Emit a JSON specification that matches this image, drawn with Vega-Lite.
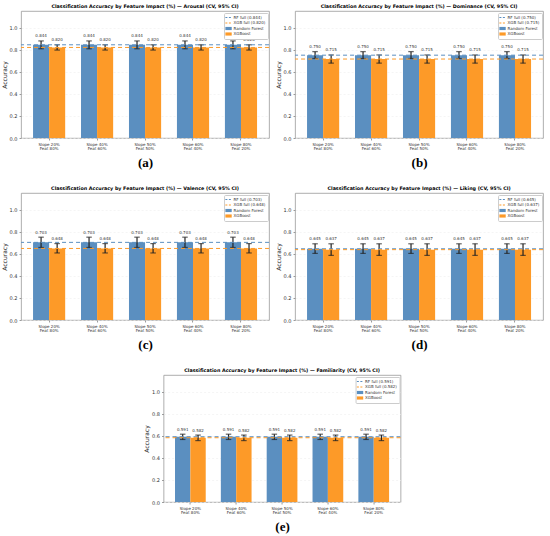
{
  "$schema": "https://vega.github.io/schema/vega-lite/v6.json",
  "background": "white",
  "padding": {"left": 0, "top": 3, "right": 0, "bottom": 0},
  "datasets": {
    "arousal": [
      {"cat": "Slope 20%|Feat 80%", "model": "Random Forest", "acc": 0.844, "lo": 0.808, "hi": 0.879},
      {"cat": "Slope 20%|Feat 80%", "model": "XGBoost", "acc": 0.820, "lo": 0.796, "hi": 0.844},
      {"cat": "Slope 40%|Feat 60%", "model": "Random Forest", "acc": 0.844, "lo": 0.808, "hi": 0.879},
      {"cat": "Slope 40%|Feat 60%", "model": "XGBoost", "acc": 0.820, "lo": 0.796, "hi": 0.844},
      {"cat": "Slope 50%|Feat 50%", "model": "Random Forest", "acc": 0.844, "lo": 0.808, "hi": 0.879},
      {"cat": "Slope 50%|Feat 50%", "model": "XGBoost", "acc": 0.820, "lo": 0.796, "hi": 0.844},
      {"cat": "Slope 60%|Feat 40%", "model": "Random Forest", "acc": 0.844, "lo": 0.808, "hi": 0.879},
      {"cat": "Slope 60%|Feat 40%", "model": "XGBoost", "acc": 0.820, "lo": 0.796, "hi": 0.844},
      {"cat": "Slope 80%|Feat 20%", "model": "Random Forest", "acc": 0.844, "lo": 0.808, "hi": 0.879},
      {"cat": "Slope 80%|Feat 20%", "model": "XGBoost", "acc": 0.820, "lo": 0.796, "hi": 0.844}
    ],
    "arousal_ref": [
      {"model": "RF full (0.844)", "v": 0.844},
      {"model": "XGB full (0.820)", "v": 0.820}
    ],
    "dominance": [
      {"cat": "Slope 20%|Feat 80%", "model": "Random Forest", "acc": 0.750, "lo": 0.720, "hi": 0.782},
      {"cat": "Slope 20%|Feat 80%", "model": "XGBoost", "acc": 0.715, "lo": 0.678, "hi": 0.752},
      {"cat": "Slope 40%|Feat 60%", "model": "Random Forest", "acc": 0.750, "lo": 0.720, "hi": 0.782},
      {"cat": "Slope 40%|Feat 60%", "model": "XGBoost", "acc": 0.715, "lo": 0.678, "hi": 0.752},
      {"cat": "Slope 50%|Feat 50%", "model": "Random Forest", "acc": 0.750, "lo": 0.720, "hi": 0.782},
      {"cat": "Slope 50%|Feat 50%", "model": "XGBoost", "acc": 0.715, "lo": 0.678, "hi": 0.752},
      {"cat": "Slope 60%|Feat 40%", "model": "Random Forest", "acc": 0.750, "lo": 0.720, "hi": 0.782},
      {"cat": "Slope 60%|Feat 40%", "model": "XGBoost", "acc": 0.715, "lo": 0.678, "hi": 0.752},
      {"cat": "Slope 80%|Feat 20%", "model": "Random Forest", "acc": 0.750, "lo": 0.720, "hi": 0.782},
      {"cat": "Slope 80%|Feat 20%", "model": "XGBoost", "acc": 0.715, "lo": 0.678, "hi": 0.752}
    ],
    "dominance_ref": [
      {"model": "RF full (0.750)", "v": 0.750},
      {"model": "XGB full (0.715)", "v": 0.715}
    ],
    "valence": [
      {"cat": "Slope 20%|Feat 80%", "model": "Random Forest", "acc": 0.703, "lo": 0.657, "hi": 0.750},
      {"cat": "Slope 20%|Feat 80%", "model": "XGBoost", "acc": 0.648, "lo": 0.607, "hi": 0.692},
      {"cat": "Slope 40%|Feat 60%", "model": "Random Forest", "acc": 0.703, "lo": 0.657, "hi": 0.750},
      {"cat": "Slope 40%|Feat 60%", "model": "XGBoost", "acc": 0.648, "lo": 0.607, "hi": 0.692},
      {"cat": "Slope 50%|Feat 50%", "model": "Random Forest", "acc": 0.703, "lo": 0.657, "hi": 0.750},
      {"cat": "Slope 50%|Feat 50%", "model": "XGBoost", "acc": 0.648, "lo": 0.607, "hi": 0.692},
      {"cat": "Slope 60%|Feat 40%", "model": "Random Forest", "acc": 0.703, "lo": 0.657, "hi": 0.750},
      {"cat": "Slope 60%|Feat 40%", "model": "XGBoost", "acc": 0.648, "lo": 0.607, "hi": 0.692},
      {"cat": "Slope 80%|Feat 20%", "model": "Random Forest", "acc": 0.703, "lo": 0.657, "hi": 0.750},
      {"cat": "Slope 80%|Feat 20%", "model": "XGBoost", "acc": 0.648, "lo": 0.607, "hi": 0.692}
    ],
    "valence_ref": [
      {"model": "RF full (0.703)", "v": 0.703},
      {"model": "XGB full (0.648)", "v": 0.648}
    ],
    "liking": [
      {"cat": "Slope 20%|Feat 80%", "model": "Random Forest", "acc": 0.645, "lo": 0.603, "hi": 0.690},
      {"cat": "Slope 20%|Feat 80%", "model": "XGBoost", "acc": 0.637, "lo": 0.585, "hi": 0.690},
      {"cat": "Slope 40%|Feat 60%", "model": "Random Forest", "acc": 0.645, "lo": 0.603, "hi": 0.690},
      {"cat": "Slope 40%|Feat 60%", "model": "XGBoost", "acc": 0.637, "lo": 0.585, "hi": 0.690},
      {"cat": "Slope 50%|Feat 50%", "model": "Random Forest", "acc": 0.645, "lo": 0.603, "hi": 0.690},
      {"cat": "Slope 50%|Feat 50%", "model": "XGBoost", "acc": 0.637, "lo": 0.585, "hi": 0.690},
      {"cat": "Slope 60%|Feat 40%", "model": "Random Forest", "acc": 0.645, "lo": 0.603, "hi": 0.690},
      {"cat": "Slope 60%|Feat 40%", "model": "XGBoost", "acc": 0.637, "lo": 0.585, "hi": 0.690},
      {"cat": "Slope 80%|Feat 20%", "model": "Random Forest", "acc": 0.645, "lo": 0.603, "hi": 0.690},
      {"cat": "Slope 80%|Feat 20%", "model": "XGBoost", "acc": 0.637, "lo": 0.585, "hi": 0.690}
    ],
    "liking_ref": [
      {"model": "RF full (0.645)", "v": 0.645},
      {"model": "XGB full (0.637)", "v": 0.637}
    ],
    "familiarity": [
      {"cat": "Slope 20%|Feat 80%", "model": "Random Forest", "acc": 0.591, "lo": 0.566, "hi": 0.614},
      {"cat": "Slope 20%|Feat 80%", "model": "XGBoost", "acc": 0.582, "lo": 0.556, "hi": 0.606},
      {"cat": "Slope 40%|Feat 60%", "model": "Random Forest", "acc": 0.591, "lo": 0.566, "hi": 0.614},
      {"cat": "Slope 40%|Feat 60%", "model": "XGBoost", "acc": 0.582, "lo": 0.556, "hi": 0.606},
      {"cat": "Slope 50%|Feat 50%", "model": "Random Forest", "acc": 0.591, "lo": 0.566, "hi": 0.614},
      {"cat": "Slope 50%|Feat 50%", "model": "XGBoost", "acc": 0.582, "lo": 0.556, "hi": 0.606},
      {"cat": "Slope 60%|Feat 40%", "model": "Random Forest", "acc": 0.591, "lo": 0.566, "hi": 0.614},
      {"cat": "Slope 60%|Feat 40%", "model": "XGBoost", "acc": 0.582, "lo": 0.556, "hi": 0.606},
      {"cat": "Slope 80%|Feat 20%", "model": "Random Forest", "acc": 0.591, "lo": 0.566, "hi": 0.614},
      {"cat": "Slope 80%|Feat 20%", "model": "XGBoost", "acc": 0.582, "lo": 0.556, "hi": 0.606}
    ],
    "familiarity_ref": [
      {"model": "RF full (0.591)", "v": 0.591},
      {"model": "XGB full (0.582)", "v": 0.582}
    ]
  },
  "vconcat": [
    {
      "hconcat": [
        {
          "width": 248, "height": 127,
          "title": {"text": "Classification Accuracy by Feature Impact (%) — Arousal (CV, 95% CI)"},
          "layer": [
            {"data": {"name": "arousal"}, "mark": {"type": "bar"},
             "encoding": {
               "x": {"field": "cat", "type": "nominal", "sort": null, "scale": {"paddingInner": 0.33, "paddingOuter": 0.25}, "axis": {"title": "(a)"}},
               "xOffset": {"field": "model", "type": "nominal", "sort": ["Random Forest", "XGBoost"]},
               "y": {"field": "acc", "type": "quantitative", "scale": {"domain": [0, 1.15], "nice": false}, "axis": {"title": "Accuracy"}},
               "color": {"field": "model", "type": "nominal", "scale": {"domain": ["RF full (0.844)", "XGB full (0.820)", "Random Forest", "XGBoost"], "range": ["#5b8fc0", "#fd9a28", "#5b8fc0", "#fd9a28"]},
                 "legend": {"title": null, "encode": {"symbols": {"update": {"shape": {"signal": "test(/full/, datum.value) ? 'stroke' : 'M-1,-0.5H1V0.5H-1Z'"}, "size": {"value": 40}, "fill": {"signal": "test(/^R/, datum.value) ? '#5b8fc0' : '#fd9a28'"}, "stroke": {"signal": "test(/^R/, datum.value) ? '#5b8fc0' : '#fd9a28'"}, "strokeWidth": {"signal": "test(/full/, datum.value) ? 1 : 0"}, "strokeDash": {"signal": "test(/full/, datum.value) ? [2, 1.5] : [1, 0]"}}}}}}
             }},
            {"data": {"name": "arousal"}, "mark": {"type": "rule", "color": "#222", "strokeWidth": 1.2},
             "encoding": {"x": {"field": "cat", "type": "nominal", "sort": null}, "xOffset": {"field": "model", "type": "nominal", "sort": ["Random Forest", "XGBoost"]}, "y": {"field": "lo", "type": "quantitative"}, "y2": {"field": "hi"}}},
            {"data": {"name": "arousal"}, "mark": {"type": "tick", "color": "#222", "thickness": 1.2, "size": 5.5},
             "encoding": {"x": {"field": "cat", "type": "nominal", "sort": null}, "xOffset": {"field": "model", "type": "nominal", "sort": ["Random Forest", "XGBoost"]}, "y": {"field": "lo", "type": "quantitative"}}},
            {"data": {"name": "arousal"}, "mark": {"type": "tick", "color": "#222", "thickness": 1.2, "size": 5.5},
             "encoding": {"x": {"field": "cat", "type": "nominal", "sort": null}, "xOffset": {"field": "model", "type": "nominal", "sort": ["Random Forest", "XGBoost"]}, "y": {"field": "hi", "type": "quantitative"}}},
            {"data": {"name": "arousal"}, "mark": {"type": "text", "baseline": "bottom", "dy": -2.5, "fontSize": 4, "color": "#333"},
             "encoding": {"x": {"field": "cat", "type": "nominal", "sort": null}, "xOffset": {"field": "model", "type": "nominal", "sort": ["Random Forest", "XGBoost"]}, "y": {"field": "hi", "type": "quantitative"}, "text": {"field": "acc", "type": "quantitative", "format": ".3f"}}},
            {"data": {"name": "arousal_ref"}, "mark": {"type": "rule", "strokeDash": [4, 3], "strokeWidth": 1},
             "encoding": {"y": {"field": "v", "type": "quantitative"}, "color": {"field": "model", "type": "nominal"}}}
          ]
        },
        {
          "width": 248, "height": 127,
          "title": {"text": "Classification Accuracy by Feature Impact (%) — Dominance (CV, 95% CI)"},
          "layer": [
            {"data": {"name": "dominance"}, "mark": {"type": "bar"},
             "encoding": {
               "x": {"field": "cat", "type": "nominal", "sort": null, "scale": {"paddingInner": 0.33, "paddingOuter": 0.25}, "axis": {"title": "(b)"}},
               "xOffset": {"field": "model", "type": "nominal", "sort": ["Random Forest", "XGBoost"]},
               "y": {"field": "acc", "type": "quantitative", "scale": {"domain": [0, 1.15], "nice": false}, "axis": {"title": "Accuracy"}},
               "color": {"field": "model", "type": "nominal", "scale": {"domain": ["RF full (0.750)", "XGB full (0.715)", "Random Forest", "XGBoost"], "range": ["#5b8fc0", "#fd9a28", "#5b8fc0", "#fd9a28"]},
                 "legend": {"title": null, "encode": {"symbols": {"update": {"shape": {"signal": "test(/full/, datum.value) ? 'stroke' : 'M-1,-0.5H1V0.5H-1Z'"}, "size": {"value": 40}, "fill": {"signal": "test(/^R/, datum.value) ? '#5b8fc0' : '#fd9a28'"}, "stroke": {"signal": "test(/^R/, datum.value) ? '#5b8fc0' : '#fd9a28'"}, "strokeWidth": {"signal": "test(/full/, datum.value) ? 1 : 0"}, "strokeDash": {"signal": "test(/full/, datum.value) ? [2, 1.5] : [1, 0]"}}}}}}
             }},
            {"data": {"name": "dominance"}, "mark": {"type": "rule", "color": "#222", "strokeWidth": 1.2},
             "encoding": {"x": {"field": "cat", "type": "nominal", "sort": null}, "xOffset": {"field": "model", "type": "nominal", "sort": ["Random Forest", "XGBoost"]}, "y": {"field": "lo", "type": "quantitative"}, "y2": {"field": "hi"}}},
            {"data": {"name": "dominance"}, "mark": {"type": "tick", "color": "#222", "thickness": 1.2, "size": 5.5},
             "encoding": {"x": {"field": "cat", "type": "nominal", "sort": null}, "xOffset": {"field": "model", "type": "nominal", "sort": ["Random Forest", "XGBoost"]}, "y": {"field": "lo", "type": "quantitative"}}},
            {"data": {"name": "dominance"}, "mark": {"type": "tick", "color": "#222", "thickness": 1.2, "size": 5.5},
             "encoding": {"x": {"field": "cat", "type": "nominal", "sort": null}, "xOffset": {"field": "model", "type": "nominal", "sort": ["Random Forest", "XGBoost"]}, "y": {"field": "hi", "type": "quantitative"}}},
            {"data": {"name": "dominance"}, "mark": {"type": "text", "baseline": "bottom", "dy": -2.5, "fontSize": 4, "color": "#333"},
             "encoding": {"x": {"field": "cat", "type": "nominal", "sort": null}, "xOffset": {"field": "model", "type": "nominal", "sort": ["Random Forest", "XGBoost"]}, "y": {"field": "hi", "type": "quantitative"}, "text": {"field": "acc", "type": "quantitative", "format": ".3f"}}},
            {"data": {"name": "dominance_ref"}, "mark": {"type": "rule", "strokeDash": [4, 3], "strokeWidth": 1},
             "encoding": {"y": {"field": "v", "type": "quantitative"}, "color": {"field": "model", "type": "nominal"}}}
          ]
        }
      ],
      "spacing": 4,
      "resolve": {"scale": {"color": "independent", "x": "independent", "y": "independent", "xOffset": "independent"}, "legend": {"color": "independent"}}
    },
    {
      "hconcat": [
        {
          "width": 248, "height": 127,
          "title": {"text": "Classification Accuracy by Feature Impact (%) — Valence (CV, 95% CI)"},
          "layer": [
            {"data": {"name": "valence"}, "mark": {"type": "bar"},
             "encoding": {
               "x": {"field": "cat", "type": "nominal", "sort": null, "scale": {"paddingInner": 0.33, "paddingOuter": 0.25}, "axis": {"title": "(c)"}},
               "xOffset": {"field": "model", "type": "nominal", "sort": ["Random Forest", "XGBoost"]},
               "y": {"field": "acc", "type": "quantitative", "scale": {"domain": [0, 1.15], "nice": false}, "axis": {"title": "Accuracy"}},
               "color": {"field": "model", "type": "nominal", "scale": {"domain": ["RF full (0.703)", "XGB full (0.648)", "Random Forest", "XGBoost"], "range": ["#5b8fc0", "#fd9a28", "#5b8fc0", "#fd9a28"]},
                 "legend": {"title": null, "encode": {"symbols": {"update": {"shape": {"signal": "test(/full/, datum.value) ? 'stroke' : 'M-1,-0.5H1V0.5H-1Z'"}, "size": {"value": 40}, "fill": {"signal": "test(/^R/, datum.value) ? '#5b8fc0' : '#fd9a28'"}, "stroke": {"signal": "test(/^R/, datum.value) ? '#5b8fc0' : '#fd9a28'"}, "strokeWidth": {"signal": "test(/full/, datum.value) ? 1 : 0"}, "strokeDash": {"signal": "test(/full/, datum.value) ? [2, 1.5] : [1, 0]"}}}}}}
             }},
            {"data": {"name": "valence"}, "mark": {"type": "rule", "color": "#222", "strokeWidth": 1.2},
             "encoding": {"x": {"field": "cat", "type": "nominal", "sort": null}, "xOffset": {"field": "model", "type": "nominal", "sort": ["Random Forest", "XGBoost"]}, "y": {"field": "lo", "type": "quantitative"}, "y2": {"field": "hi"}}},
            {"data": {"name": "valence"}, "mark": {"type": "tick", "color": "#222", "thickness": 1.2, "size": 5.5},
             "encoding": {"x": {"field": "cat", "type": "nominal", "sort": null}, "xOffset": {"field": "model", "type": "nominal", "sort": ["Random Forest", "XGBoost"]}, "y": {"field": "lo", "type": "quantitative"}}},
            {"data": {"name": "valence"}, "mark": {"type": "tick", "color": "#222", "thickness": 1.2, "size": 5.5},
             "encoding": {"x": {"field": "cat", "type": "nominal", "sort": null}, "xOffset": {"field": "model", "type": "nominal", "sort": ["Random Forest", "XGBoost"]}, "y": {"field": "hi", "type": "quantitative"}}},
            {"data": {"name": "valence"}, "mark": {"type": "text", "baseline": "bottom", "dy": -2.5, "fontSize": 4, "color": "#333"},
             "encoding": {"x": {"field": "cat", "type": "nominal", "sort": null}, "xOffset": {"field": "model", "type": "nominal", "sort": ["Random Forest", "XGBoost"]}, "y": {"field": "hi", "type": "quantitative"}, "text": {"field": "acc", "type": "quantitative", "format": ".3f"}}},
            {"data": {"name": "valence_ref"}, "mark": {"type": "rule", "strokeDash": [4, 3], "strokeWidth": 1},
             "encoding": {"y": {"field": "v", "type": "quantitative"}, "color": {"field": "model", "type": "nominal"}}}
          ]
        },
        {
          "width": 248, "height": 127,
          "title": {"text": "Classification Accuracy by Feature Impact (%) — Liking (CV, 95% CI)"},
          "layer": [
            {"data": {"name": "liking"}, "mark": {"type": "bar"},
             "encoding": {
               "x": {"field": "cat", "type": "nominal", "sort": null, "scale": {"paddingInner": 0.33, "paddingOuter": 0.25}, "axis": {"title": "(d)"}},
               "xOffset": {"field": "model", "type": "nominal", "sort": ["Random Forest", "XGBoost"]},
               "y": {"field": "acc", "type": "quantitative", "scale": {"domain": [0, 1.15], "nice": false}, "axis": {"title": "Accuracy"}},
               "color": {"field": "model", "type": "nominal", "scale": {"domain": ["RF full (0.645)", "XGB full (0.637)", "Random Forest", "XGBoost"], "range": ["#5b8fc0", "#fd9a28", "#5b8fc0", "#fd9a28"]},
                 "legend": {"title": null, "encode": {"symbols": {"update": {"shape": {"signal": "test(/full/, datum.value) ? 'stroke' : 'M-1,-0.5H1V0.5H-1Z'"}, "size": {"value": 40}, "fill": {"signal": "test(/^R/, datum.value) ? '#5b8fc0' : '#fd9a28'"}, "stroke": {"signal": "test(/^R/, datum.value) ? '#5b8fc0' : '#fd9a28'"}, "strokeWidth": {"signal": "test(/full/, datum.value) ? 1 : 0"}, "strokeDash": {"signal": "test(/full/, datum.value) ? [2, 1.5] : [1, 0]"}}}}}}
             }},
            {"data": {"name": "liking"}, "mark": {"type": "rule", "color": "#222", "strokeWidth": 1.2},
             "encoding": {"x": {"field": "cat", "type": "nominal", "sort": null}, "xOffset": {"field": "model", "type": "nominal", "sort": ["Random Forest", "XGBoost"]}, "y": {"field": "lo", "type": "quantitative"}, "y2": {"field": "hi"}}},
            {"data": {"name": "liking"}, "mark": {"type": "tick", "color": "#222", "thickness": 1.2, "size": 5.5},
             "encoding": {"x": {"field": "cat", "type": "nominal", "sort": null}, "xOffset": {"field": "model", "type": "nominal", "sort": ["Random Forest", "XGBoost"]}, "y": {"field": "lo", "type": "quantitative"}}},
            {"data": {"name": "liking"}, "mark": {"type": "tick", "color": "#222", "thickness": 1.2, "size": 5.5},
             "encoding": {"x": {"field": "cat", "type": "nominal", "sort": null}, "xOffset": {"field": "model", "type": "nominal", "sort": ["Random Forest", "XGBoost"]}, "y": {"field": "hi", "type": "quantitative"}}},
            {"data": {"name": "liking"}, "mark": {"type": "text", "baseline": "bottom", "dy": -2.5, "fontSize": 4, "color": "#333"},
             "encoding": {"x": {"field": "cat", "type": "nominal", "sort": null}, "xOffset": {"field": "model", "type": "nominal", "sort": ["Random Forest", "XGBoost"]}, "y": {"field": "hi", "type": "quantitative"}, "text": {"field": "acc", "type": "quantitative", "format": ".3f"}}},
            {"data": {"name": "liking_ref"}, "mark": {"type": "rule", "strokeDash": [4, 3], "strokeWidth": 1},
             "encoding": {"y": {"field": "v", "type": "quantitative"}, "color": {"field": "model", "type": "nominal"}}}
          ]
        }
      ],
      "spacing": 4,
      "resolve": {"scale": {"color": "independent", "x": "independent", "y": "independent", "xOffset": "independent"}, "legend": {"color": "independent"}}
    },
    {
      "width": 237, "height": 127,
      "title": {"text": "Classification Accuracy by Feature Impact (%) — Familiarity (CV, 95% CI)"},
      "layer": [
        {"data": {"name": "familiarity"}, "mark": {"type": "bar"},
         "encoding": {
           "x": {"field": "cat", "type": "nominal", "sort": null, "scale": {"paddingInner": 0.33, "paddingOuter": 0.25}, "axis": {"title": "(e)"}},
           "xOffset": {"field": "model", "type": "nominal", "sort": ["Random Forest", "XGBoost"]},
           "y": {"field": "acc", "type": "quantitative", "scale": {"domain": [0, 1.15], "nice": false}, "axis": {"title": "Accuracy"}},
           "color": {"field": "model", "type": "nominal", "scale": {"domain": ["RF full (0.591)", "XGB full (0.582)", "Random Forest", "XGBoost"], "range": ["#5b8fc0", "#fd9a28", "#5b8fc0", "#fd9a28"]},
             "legend": {"title": null, "encode": {"symbols": {"update": {"shape": {"signal": "test(/full/, datum.value) ? 'stroke' : 'M-1,-0.5H1V0.5H-1Z'"}, "size": {"value": 40}, "fill": {"signal": "test(/^R/, datum.value) ? '#5b8fc0' : '#fd9a28'"}, "stroke": {"signal": "test(/^R/, datum.value) ? '#5b8fc0' : '#fd9a28'"}, "strokeWidth": {"signal": "test(/full/, datum.value) ? 1 : 0"}, "strokeDash": {"signal": "test(/full/, datum.value) ? [2, 1.5] : [1, 0]"}}}}}}
         }},
        {"data": {"name": "familiarity"}, "mark": {"type": "rule", "color": "#222", "strokeWidth": 1.2},
         "encoding": {"x": {"field": "cat", "type": "nominal", "sort": null}, "xOffset": {"field": "model", "type": "nominal", "sort": ["Random Forest", "XGBoost"]}, "y": {"field": "lo", "type": "quantitative"}, "y2": {"field": "hi"}}},
        {"data": {"name": "familiarity"}, "mark": {"type": "tick", "color": "#222", "thickness": 1.2, "size": 5.5},
         "encoding": {"x": {"field": "cat", "type": "nominal", "sort": null}, "xOffset": {"field": "model", "type": "nominal", "sort": ["Random Forest", "XGBoost"]}, "y": {"field": "lo", "type": "quantitative"}}},
        {"data": {"name": "familiarity"}, "mark": {"type": "tick", "color": "#222", "thickness": 1.2, "size": 5.5},
         "encoding": {"x": {"field": "cat", "type": "nominal", "sort": null}, "xOffset": {"field": "model", "type": "nominal", "sort": ["Random Forest", "XGBoost"]}, "y": {"field": "hi", "type": "quantitative"}}},
        {"data": {"name": "familiarity"}, "mark": {"type": "text", "baseline": "bottom", "dy": -2.5, "fontSize": 4, "color": "#333"},
         "encoding": {"x": {"field": "cat", "type": "nominal", "sort": null}, "xOffset": {"field": "model", "type": "nominal", "sort": ["Random Forest", "XGBoost"]}, "y": {"field": "hi", "type": "quantitative"}, "text": {"field": "acc", "type": "quantitative", "format": ".3f"}}},
        {"data": {"name": "familiarity_ref"}, "mark": {"type": "rule", "strokeDash": [4, 3], "strokeWidth": 1},
         "encoding": {"y": {"field": "v", "type": "quantitative"}, "color": {"field": "model", "type": "nominal"}}}
      ]
    }
  ],
  "spacing": 15,
  "center": true,
  "resolve": {"scale": {"color": "independent", "x": "independent", "y": "independent", "xOffset": "independent"}, "legend": {"color": "independent"}},
  "config": {
    "font": "DejaVu Sans",
    "view": {"stroke": "#999", "strokeWidth": 0.8},
    "title": {"fontSize": 4.8, "fontWeight": "bold", "font": "DejaVu Sans", "offset": 2, "color": "#000"},
    "axis": {"labelFontSize": 5, "labelColor": "#333", "tickColor": "#999", "tickSize": 2, "domain": false, "labelPadding": 2},
    "axisX": {"labelAngle": 0, "labelFontSize": 4, "labelExpr": "split(datum.label, '|')", "labelLineHeight": 4.5, "titleFont": "Liberation Serif", "titleFontSize": 13, "titleFontWeight": "bold", "titleColor": "#000", "titlePadding": 6, "grid": false},
    "axisY": {"values": [0, 0.2, 0.4, 0.6, 0.8, 1.0], "format": ".1f", "titleFontSize": 6, "titleFontWeight": "normal", "titleColor": "#222", "titlePadding": 2, "grid": true, "gridColor": "#eeeeee", "gridDash": [2, 2], "gridWidth": 0.6},
    "legend": {"orient": "top-right", "offset": 1.5, "fillColor": "white", "strokeColor": "#ccc", "padding": 2.5, "labelFontSize": 4, "labelColor": "#333", "symbolSize": 40, "symbolStrokeWidth": 1, "rowPadding": 1.5, "labelOffset": 3, "labelLimit": 100, "cornerRadius": 1}
  }
}
